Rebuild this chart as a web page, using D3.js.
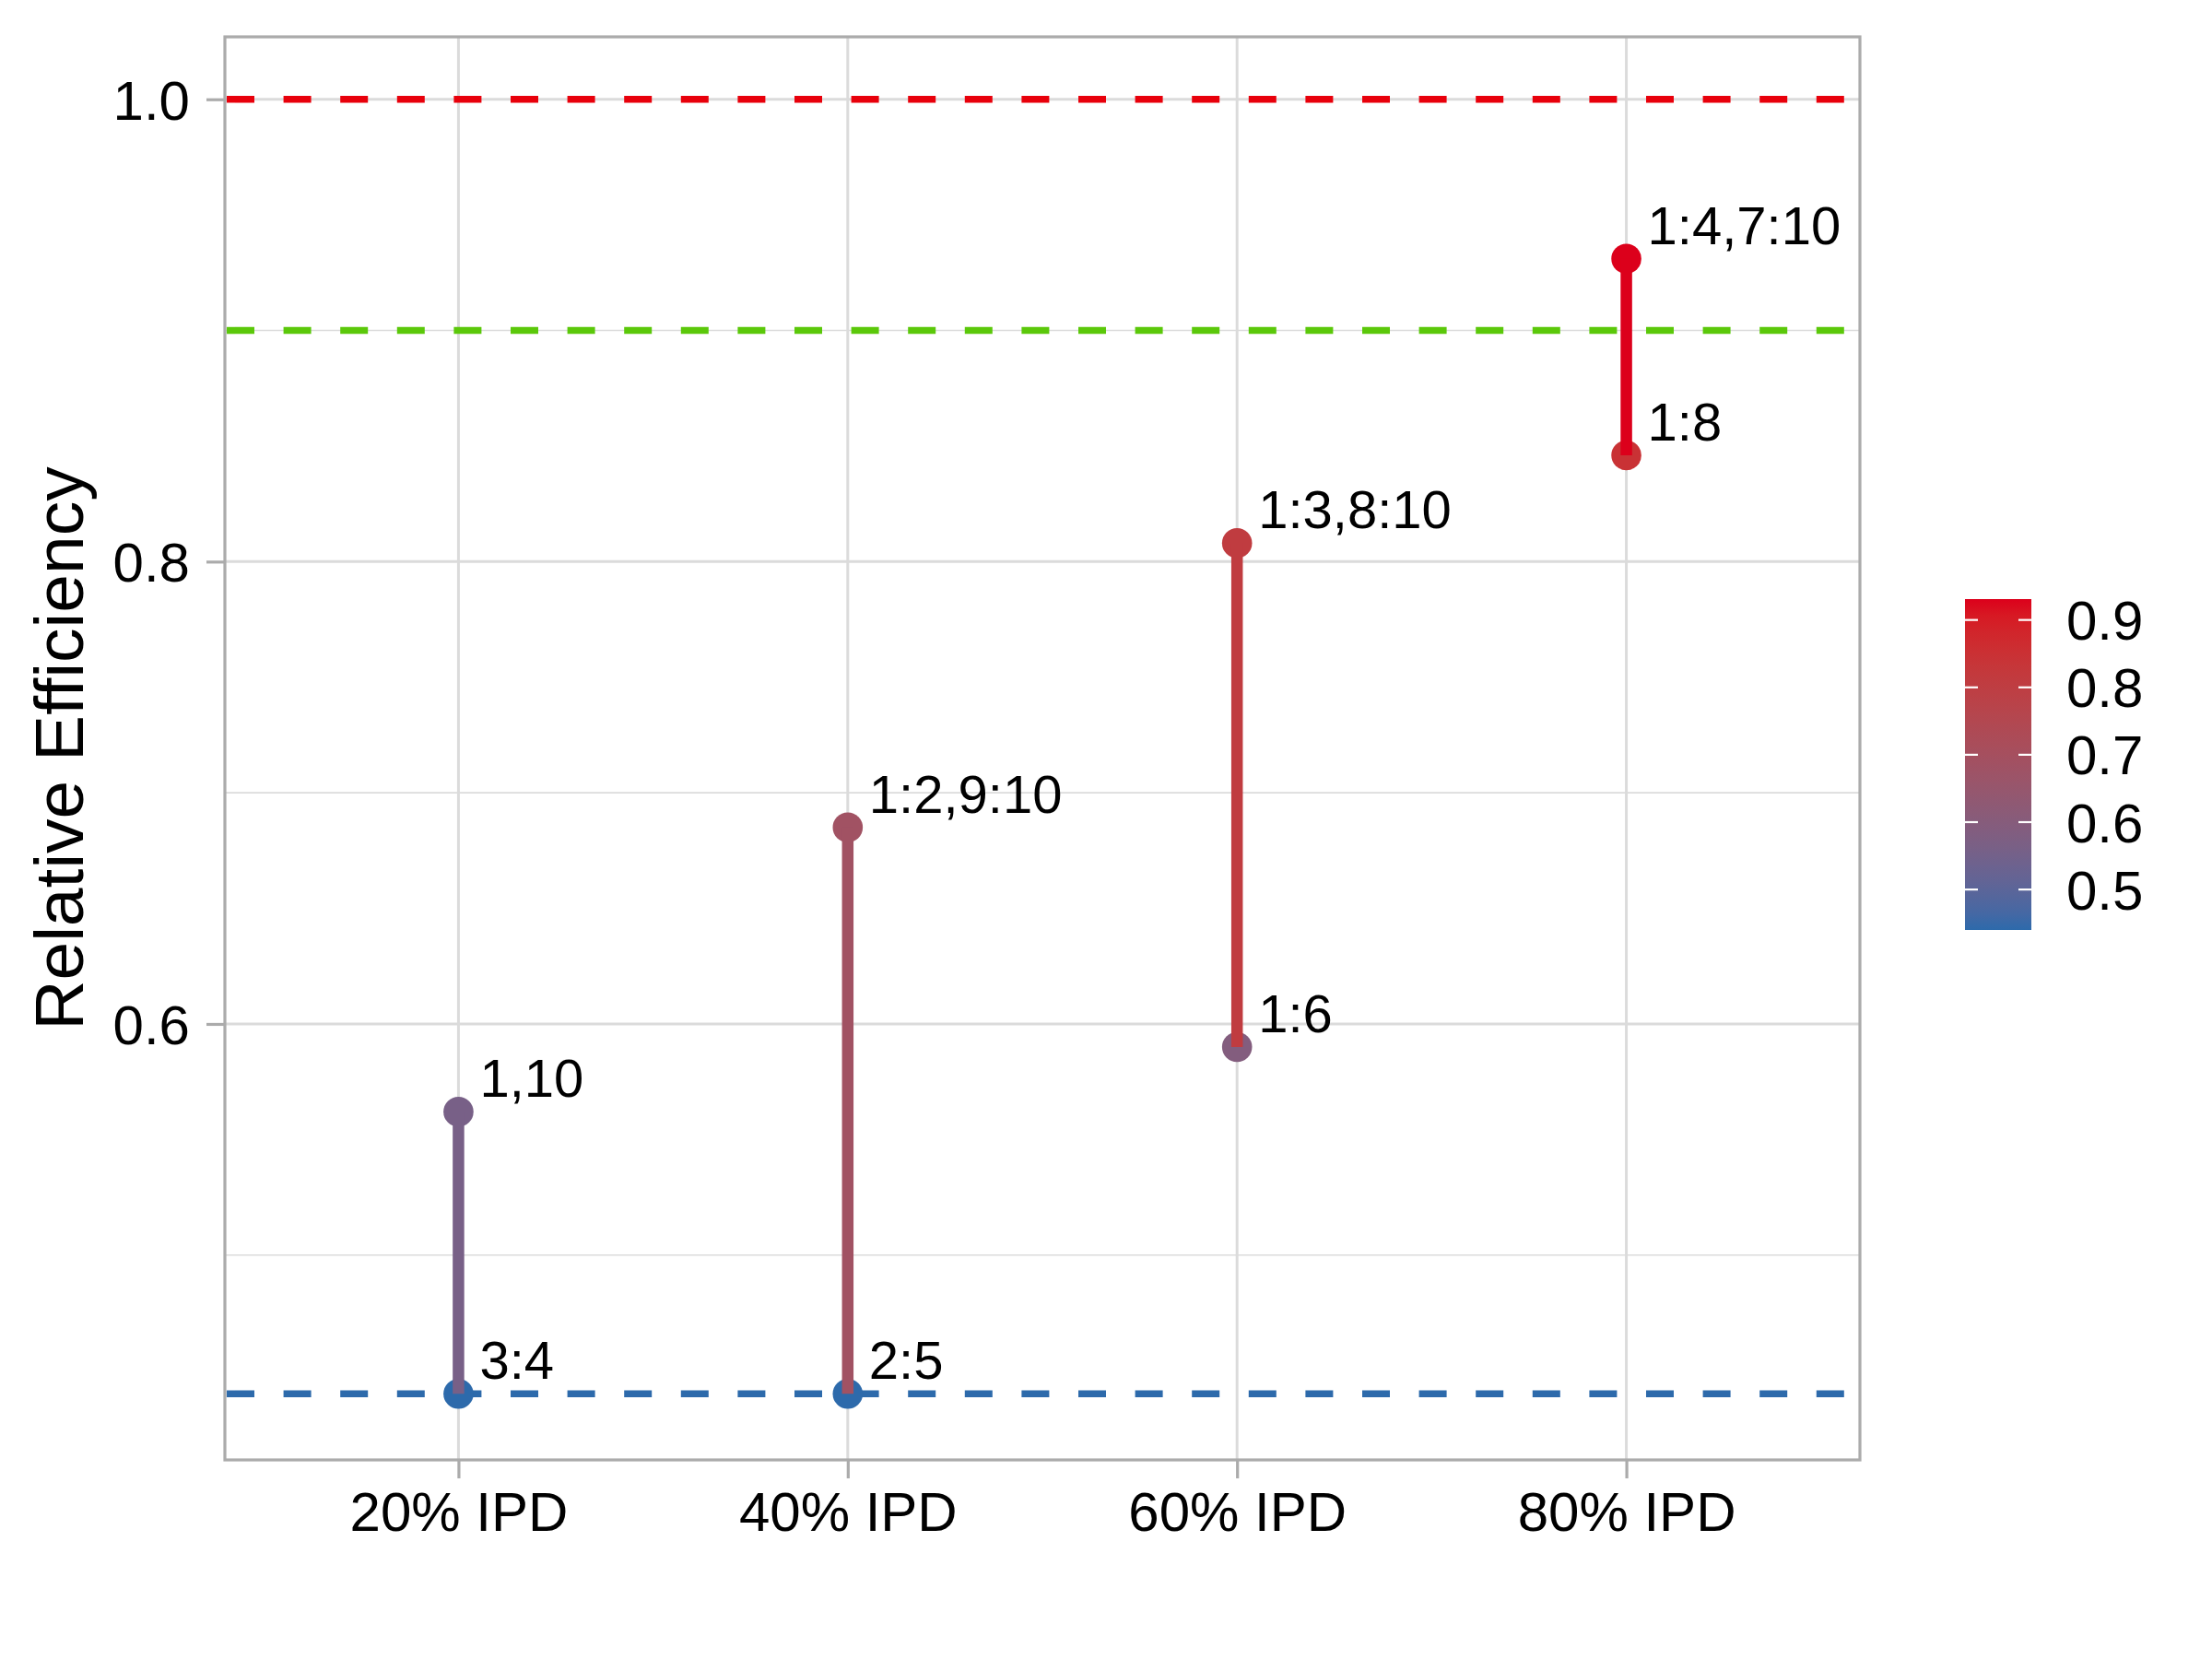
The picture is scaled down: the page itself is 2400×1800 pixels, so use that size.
<!DOCTYPE html>
<html>
<head>
<meta charset="utf-8">
<script src="https://cdn.jsdelivr.net/npm/d3@7"></script>
<style>
  html, body { margin: 0; padding: 0; background: #ffffff; }
  text { font-family: "Liberation Sans", Arial, sans-serif; fill: #000000; }
</style>
</head>
<body>
<svg id="chart" width="2400" height="1800"></svg>
<script>
// ---------------- data ----------------
const categories = ["20% IPD", "40% IPD", "60% IPD", "80% IPD"];
const topValues = [0.562, 0.685, 0.808, 0.931];
const bottomValues = [0.440, 0.440, 0.590, 0.846];
const topLabels = ["1,10", "1:2,9:10", "1:3,8:10", "1:4,7:10"];
const bottomLabels = ["3:4", "2:5", "1:6", "1:8"];
const refValues = [1.0, 0.9, 0.44];
const refColors = ["#E8000B", "#5BC80A", "#2D6AAB"];
const yMajorTicks = [0.6, 0.8, 1.0];
const yMinorTicks = [0.5, 0.7, 0.9];
const legendTicks = [0.5, 0.6, 0.7, 0.8, 0.9];
const colorLow = "#2D6AAB";
const colorHigh = "#DC001B";

// ---------------- layout ----------------
const panel = { left: 244, right: 2018, top: 40, bottom: 1584 };
const svg = d3.select("#chart");

const x = d3.scalePoint().domain(categories).range([panel.left, panel.right]).padding(0.6);
const y = d3.scaleLinear().domain([0.4114, 1.0270]).range([panel.bottom, panel.top]);

const allVals = topValues.concat(bottomValues);
const cDomain = [d3.min(allVals), d3.max(allVals)];
const color = d3.scaleLinear().domain(cDomain).range([colorLow, colorHigh]).interpolate(d3.interpolateLab);

const gridColor = "#DBDBDB";
const axisGrey = "#ABABAB";

// panel background
svg.append("rect").attr("x", panel.left).attr("y", panel.top)
  .attr("width", panel.right - panel.left).attr("height", panel.bottom - panel.top)
  .attr("fill", "#ffffff");

// minor grid
svg.append("g").selectAll("line").data(yMinorTicks).join("line")
  .attr("x1", panel.left).attr("x2", panel.right)
  .attr("y1", d => y(d)).attr("y2", d => y(d))
  .attr("stroke", gridColor).attr("stroke-width", 1.6);

// major grid
svg.append("g").selectAll("line").data(yMajorTicks).join("line")
  .attr("x1", panel.left).attr("x2", panel.right)
  .attr("y1", d => y(d)).attr("y2", d => y(d))
  .attr("stroke", gridColor).attr("stroke-width", 3);

svg.append("g").selectAll("line").data(categories).join("line")
  .attr("x1", d => x(d)).attr("x2", d => x(d))
  .attr("y1", panel.top).attr("y2", panel.bottom)
  .attr("stroke", gridColor).attr("stroke-width", 3);

// reference dashed lines
svg.append("g").selectAll("line").data(refValues).join("line")
  .attr("x1", panel.left + 2).attr("x2", panel.right - 1)
  .attr("y1", d => y(d)).attr("y2", d => y(d))
  .attr("stroke", (d, i) => refColors[i])
  .attr("stroke-width", 7.5)
  .attr("stroke-dasharray", "30 31.6");

// points
const pts = [];
categories.forEach((c, i) => {
  pts.push({ c, v: topValues[i] });
  pts.push({ c, v: bottomValues[i] });
});
svg.append("g").selectAll("circle").data(pts).join("circle")
  .attr("cx", d => x(d.c)).attr("cy", d => y(d.v))
  .attr("r", 16.3)
  .attr("fill", d => color(d.v));

// segments
svg.append("g").selectAll("line").data(categories).join("line")
  .attr("x1", d => x(d)).attr("x2", d => x(d))
  .attr("y1", (d, i) => y(bottomValues[i])).attr("y2", (d, i) => y(topValues[i]))
  .attr("stroke", (d, i) => color(topValues[i]))
  .attr("stroke-width", 12.5)
  .attr("stroke-linecap", "butt");

// labels
const lab = svg.append("g").attr("font-size", 58);
lab.selectAll("text.top").data(categories).join("text").attr("class", "top")
  .attr("x", d => x(d) + 23).attr("y", (d, i) => y(topValues[i]) - 16)
  .text((d, i) => topLabels[i]);
lab.selectAll("text.bot").data(categories).join("text").attr("class", "bot")
  .attr("x", d => x(d) + 23).attr("y", (d, i) => y(bottomValues[i]) - 16)
  .text((d, i) => bottomLabels[i]);

// panel border
svg.append("rect").attr("x", panel.left).attr("y", panel.top)
  .attr("width", panel.right - panel.left).attr("height", panel.bottom - panel.top)
  .attr("fill", "none").attr("stroke", axisGrey).attr("stroke-width", 3.2);

// y axis
const yAxis = d3.axisLeft(y).tickValues(yMajorTicks).tickFormat(d3.format(".1f")).tickSize(20).tickPadding(18);
const gy = svg.append("g").attr("transform", `translate(${panel.left},0)`).call(yAxis);
gy.select(".domain").remove();
gy.selectAll(".tick line").attr("stroke", axisGrey).attr("stroke-width", 3.2);
gy.selectAll(".tick text").attr("font-size", 60).attr("font-family", "Liberation Sans, Arial, sans-serif")
  .attr("fill", "#000").attr("dy", "0.36em");

// x axis
const xAxis = d3.axisBottom(x).tickSize(20).tickPadding(14);
const gx = svg.append("g").attr("transform", `translate(0,${panel.bottom})`).call(xAxis);
gx.select(".domain").remove();
gx.selectAll(".tick line").attr("stroke", axisGrey).attr("stroke-width", 3.2);
gx.selectAll(".tick text").attr("font-size", 60).attr("font-family", "Liberation Sans, Arial, sans-serif")
  .attr("fill", "#000").attr("dy", "0.71em");

// y title
svg.append("text")
  .attr("transform", `translate(90,${(panel.top + panel.bottom) / 2}) rotate(-90)`)
  .attr("text-anchor", "middle").attr("font-size", 75)
  .text("Relative Efficiency");

// colorbar legend
const bar = { x: 2132, w: 72, top: 650, bottom: 1009 };
const ly = d3.scaleLinear().domain(cDomain).range([bar.bottom, bar.top]);
const defs = svg.append("defs");
const grad = defs.append("linearGradient").attr("id", "cbar")
  .attr("x1", 0).attr("y1", 1).attr("x2", 0).attr("y2", 0);
d3.range(0, 1.0001, 0.05).forEach(t => {
  grad.append("stop").attr("offset", t)
    .attr("stop-color", color(cDomain[0] + t * (cDomain[1] - cDomain[0])));
});
svg.append("rect").attr("x", bar.x).attr("y", bar.top).attr("width", bar.w)
  .attr("height", bar.bottom - bar.top).attr("fill", "url(#cbar)");
const lt = svg.append("g");
legendTicks.forEach(v => {
  lt.append("line").attr("x1", bar.x).attr("x2", bar.x + 14)
    .attr("y1", ly(v)).attr("y2", ly(v)).attr("stroke", "#fff").attr("stroke-width", 2.2);
  lt.append("line").attr("x1", bar.x + bar.w - 14).attr("x2", bar.x + bar.w)
    .attr("y1", ly(v)).attr("y2", ly(v)).attr("stroke", "#fff").attr("stroke-width", 2.2);
});
svg.append("g").selectAll("text").data(legendTicks).join("text")
  .attr("x", 2242).attr("y", d => ly(d)).attr("dy", "0.36em")
  .attr("font-size", 60)
  .text(d => d3.format(".1f")(d));
</script>
</body>
</html>
